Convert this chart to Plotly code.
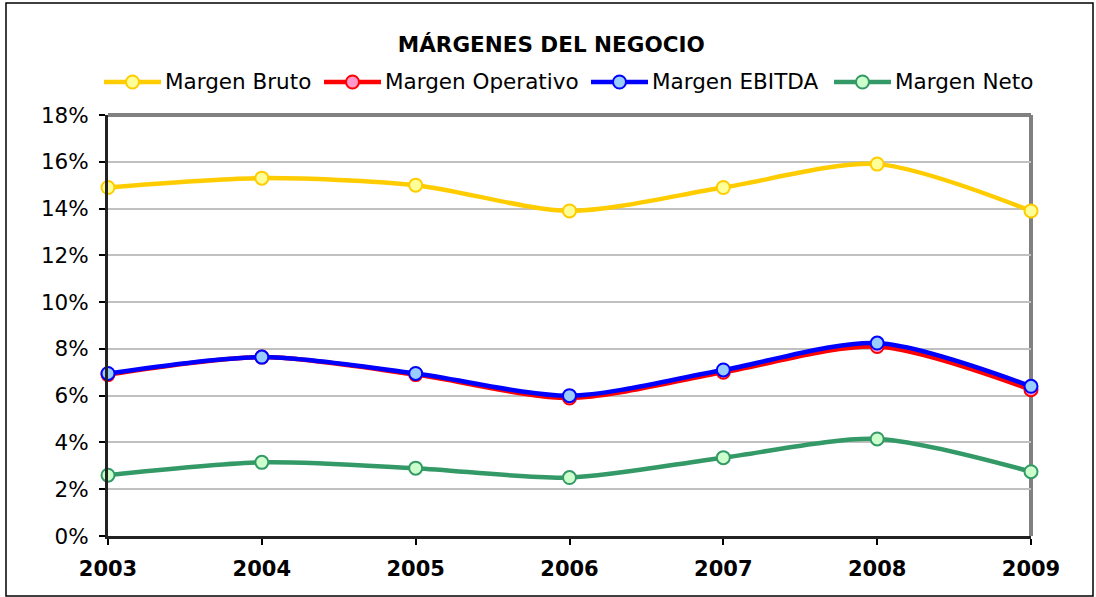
import plotly.graph_objects as go

# Años y márgenes (%) del negocio
years = ["2003", "2004", "2005", "2006", "2007", "2008", "2009"]
margen_bruto = [14.9, 15.3, 15.0, 13.9, 14.9, 15.9, 13.9]
margen_operativo = [6.9, 7.65, 6.9, 5.9, 7.0, 8.1, 6.25]
margen_ebitda = [6.95, 7.65, 6.95, 6.0, 7.1, 8.25, 6.4]
margen_neto = [2.6, 3.15, 2.9, 2.5, 3.35, 4.15, 2.75]
y_ticks = [0, 2, 4, 6, 8, 10, 12, 14, 16, 18]

series = [
    ("Margen Bruto", margen_bruto, "#FFCC00", "#FFFF99"),
    ("Margen Operativo", margen_operativo, "#FF0000", "#FF99CC"),
    ("Margen EBITDA", margen_ebitda, "#0000FF", "#99CCFF"),
    ("Margen Neto", margen_neto, "#339966", "#CCFFCC"),
]

FONT = "DejaVu Sans"
W, H = 1096, 597
L, R, T, B = 108, 65, 115, 61

# posición horizontal (px) de la muestra de línea de cada entrada de la leyenda
legend_x = [104, 324, 591, 834]
LEGEND_Y = 82
SAMPLE_LEN = 57

pw, ph = W - L - R, H - T - B


def px2paper_x(px):
    return (px - L) / pw


def px2paper_y(py):
    return (H - B - py) / ph


fig = go.Figure()
for name, vals, line_c, fill_c in series:
    fig.add_trace(go.Scatter(
        x=list(range(len(years))), y=vals, name=name,
        mode="lines+markers",
        line=dict(color=line_c, width=4.5, shape="spline", smoothing=0.8),
        marker=dict(size=13, color=fill_c, line=dict(color=line_c, width=2)),
        cliponaxis=False, showlegend=False,
    ))

shapes = [
    # marco exterior del gráfico
    dict(type="rect", xref="paper", yref="paper",
         x0=px2paper_x(6), x1=px2paper_x(1093),
         y0=px2paper_y(596), y1=px2paper_y(3),
         line=dict(color="#000000", width=1.5), layer="below"),
    # bordes superior y derecho del área de trazado
    dict(type="line", xref="paper", yref="paper", x0=0, x1=1, y0=1, y1=1,
         line=dict(color="#808080", width=4), layer="below"),
    dict(type="line", xref="paper", yref="paper", x0=1, x1=1, y0=0, y1=1,
         line=dict(color="#808080", width=4), layer="below"),
]
annotations = []

# leyenda superior: muestra de línea + marcador + texto
ly = px2paper_y(LEGEND_Y)
for (name, _, line_c, fill_c), lx in zip(series, legend_x):
    shapes.append(dict(type="line", xref="paper", yref="paper",
                       x0=px2paper_x(lx), x1=px2paper_x(lx + SAMPLE_LEN),
                       y0=ly, y1=ly, line=dict(color=line_c, width=4.5)))
    shapes.append(dict(type="circle", xref="paper", yref="paper",
                       xsizemode="pixel", ysizemode="pixel",
                       xanchor=px2paper_x(lx + SAMPLE_LEN / 2), yanchor=ly,
                       x0=-6.5, x1=6.5, y0=-6.5, y1=6.5,
                       fillcolor=fill_c, line=dict(color=line_c, width=2)))
    annotations.append(dict(xref="paper", yref="paper",
                            x=px2paper_x(lx + SAMPLE_LEN + 2), y=ly,
                            xanchor="left", yanchor="middle", showarrow=False,
                            text=name,
                            font=dict(family=FONT, size=21.5, color="#000000")))

fig.update_layout(
    width=W, height=H,
    margin=dict(l=L, r=R, t=T, b=B, autoexpand=False),
    paper_bgcolor="white", plot_bgcolor="white",
    title=dict(text="<b>MÁRGENES DEL NEGOCIO</b>", x=0.503, xanchor="center",
               y=1 - 44 / H, yanchor="middle",
               font=dict(family=FONT, size=21.5, color="#000000")),
    font=dict(family=FONT, color="#000000"),
    shapes=shapes,
    annotations=annotations,
    showlegend=False,
)

fig.update_xaxes(
    range=[0, len(years) - 1],
    tickmode="array", tickvals=list(range(len(years))),
    ticktext=[f"<b>{y}</b>" for y in years],
    tickfont=dict(family=FONT, size=21, color="#000000"),
    ticks="outside", ticklen=6, tickwidth=1.5, tickcolor="#000000",
    ticklabelstandoff=6,
    showline=True, linecolor="#222222", linewidth=3,
    showgrid=False, zeroline=False,
)

fig.update_yaxes(
    range=[0, 18],
    tickmode="array", tickvals=y_ticks, ticktext=[f"{v}%" for v in y_ticks],
    tickfont=dict(family=FONT, size=21.5, color="#000000"),
    ticks="outside", ticklen=6, tickwidth=1.5, tickcolor="#000000",
    ticklabelstandoff=6,
    showline=True, linecolor="#222222", linewidth=3,
    showgrid=True, gridcolor="#C0C0C0", gridwidth=2,
    zeroline=False,
)

fig.write_html("out.html")
